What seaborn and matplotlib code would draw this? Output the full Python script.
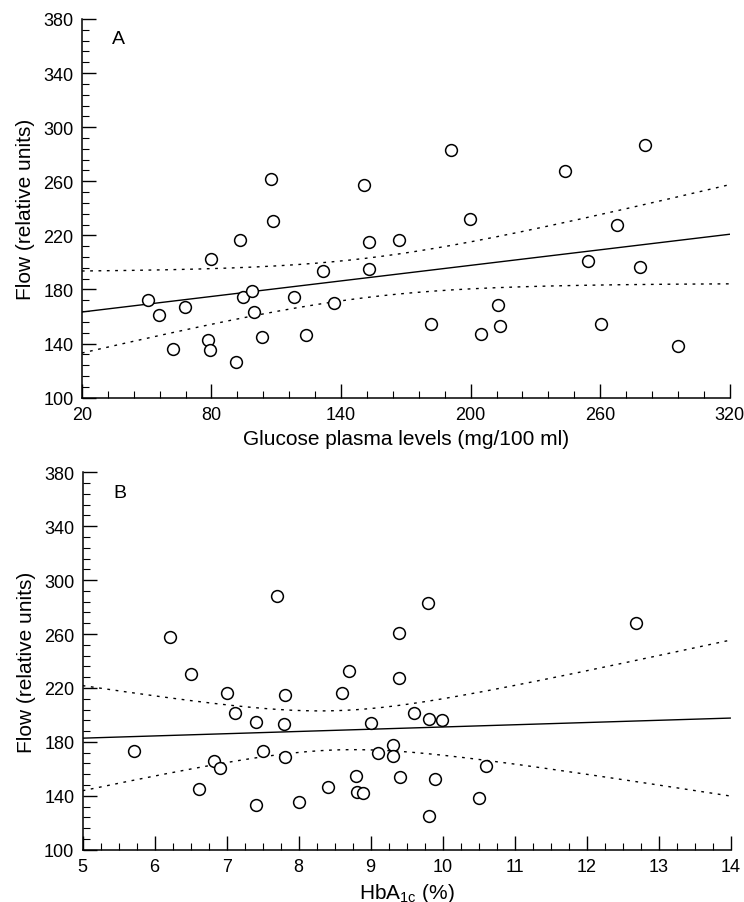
import numpy as np
import pandas as pd
import matplotlib
matplotlib.use("Agg")
import matplotlib.pyplot as plt
from matplotlib.ticker import MultipleLocator
import seaborn as sns
from scipy import stats

# panel A: glucose vs flow
glucose = [50.4, 55.8, 62.4, 67.7, 78.5, 79.4, 79.6, 91.3, 93.3, 94.6, 98.7, 99.5,
           103.5, 107.5, 108.5, 118.3, 123.6, 131.8, 136.7, 150.4, 152.8, 152.8,
           166.6, 190.7, 181.8, 199.5, 204.8, 212.5, 213.6, 243.5, 254.5, 260.4,
           267.8, 278.6, 280.9, 295.9]
flow_a = [172.2, 161.4, 136.0, 167.1, 142.9, 135.0, 202.3, 126.2, 216.8, 174.2, 178.9, 163.1,
          144.7, 261.7, 230.9, 174.2, 146.4, 193.9, 170.0, 257.5, 215.3, 195.2,
          216.8, 283.1, 154.5, 232.1, 146.9, 168.8, 153.2, 267.4, 201.1, 154.5,
          227.5, 196.6, 287.1, 138.5]

# panel B: HbA1c vs flow
hba1c = [5.72, 6.22, 6.51, 6.61, 6.82, 6.91, 7.00, 7.11, 7.41, 7.41, 7.51, 7.70,
         7.81, 7.80, 7.81, 8.01, 8.41, 8.60, 8.70, 8.80, 8.81, 8.90, 9.01,
         9.10, 9.31, 9.31, 9.40, 9.40, 9.41, 9.60, 9.80, 9.81, 9.81, 9.90,
         9.99, 10.50, 10.60, 12.68]
flow_b = [173.4, 257.6, 230.6, 145.0, 166.0, 160.4, 216.5, 201.2, 194.5, 133.4, 173.2, 288.0,
          214.8, 193.0, 168.8, 135.2, 146.8, 216.5, 232.6, 154.7, 143.0, 142.3, 193.8,
          171.5, 177.7, 169.3, 261.0, 227.6, 153.7, 201.6, 283.2, 197.0, 125.2, 152.7,
          196.2, 138.6, 162.3, 268.0]

sns.set_theme(style="ticks")
plt.rcParams['font.family'] = ['Liberation Sans', 'DejaVu Sans']
plt.rcParams['mathtext.fontset'] = 'custom'
plt.rcParams['mathtext.rm'] = 'Liberation Sans'
plt.rcParams['mathtext.it'] = 'Liberation Sans'
plt.rcParams['text.color'] = 'black'
plt.rcParams['axes.labelcolor'] = 'black'
plt.rcParams['xtick.color'] = 'black'
plt.rcParams['ytick.color'] = 'black'

fig = plt.figure(figsize=(7.44, 9.03), dpi=100)
ax_a = fig.add_axes([0.110, 0.5585, 0.871, 0.4194])
ax_b = fig.add_axes([0.111, 0.0579, 0.871, 0.4180])


def fit_with_ci(x, y, xlim):
    x = np.asarray(x)
    y = np.asarray(y)
    n = len(x)
    slope, intercept, r, p, se = stats.linregress(x, y)
    grid = np.linspace(xlim[0], xlim[1], 200)
    fit = intercept + slope * grid
    resid = y - (intercept + slope * x)
    s = np.sqrt(np.sum(resid ** 2) / (n - 2))
    sxx = np.sum((x - x.mean()) ** 2)
    t = stats.t.ppf(0.975, n - 2)
    hw = t * s * np.sqrt(1 / n + (grid - x.mean()) ** 2 / sxx)
    return grid, fit, fit - hw, fit + hw


def draw_panel(ax, x, y, xlim, xmajor, xminor, letter, xlabel):
    ax.set_xlim(*xlim)
    ax.set_ylim(100, 380)
    grid, fit, lo, hi = fit_with_ci(x, y, xlim)
    sns.lineplot(x=grid, y=fit, ax=ax, color="black", lw=1.0)
    sns.lineplot(x=grid, y=lo, ax=ax, color="black", lw=1.0, linestyle=(0, (2, 4)))
    sns.lineplot(x=grid, y=hi, ax=ax, color="black", lw=1.0, linestyle=(0, (2, 4)))
    sns.scatterplot(x=x, y=y, ax=ax, s=72, facecolor="white", edgecolor="black",
                    linewidth=1.1, zorder=3, clip_on=False)
    sns.despine(ax=ax)
    ax.xaxis.set_major_locator(MultipleLocator(xmajor, offset=xlim[0] % xmajor))
    ax.xaxis.set_minor_locator(MultipleLocator(xminor, offset=xlim[0] % xminor))
    ax.yaxis.set_major_locator(MultipleLocator(40, offset=20))
    ax.yaxis.set_minor_locator(MultipleLocator(8, offset=4))
    ax.tick_params(which="major", direction="in", length=10, width=1, labelsize=13, pad=6, color="black")
    ax.tick_params(which="minor", direction="in", length=5, width=0.8, color="black")
    for sp in ("left", "bottom"):
        ax.spines[sp].set_linewidth(1.1)
        ax.spines[sp].set_color("black")
    ax.set_ylabel("Flow (relative units)", fontsize=15, labelpad=6)
    ax.set_xlabel(xlabel, fontsize=15, labelpad=4)
    ax.text(0.047, 0.97, letter, transform=ax.transAxes, fontsize=14, va="top", ha="left")


draw_panel(ax_a, glucose, flow_a, (20, 320), 60, 12, "A", "Glucose plasma levels (mg/100 ml)")
draw_panel(ax_b, hba1c, flow_b, (5, 14), 1, 0.25, "B", r"HbA$_{\rm 1c}$ (%)")

fig.savefig("out.png", dpi=100)
